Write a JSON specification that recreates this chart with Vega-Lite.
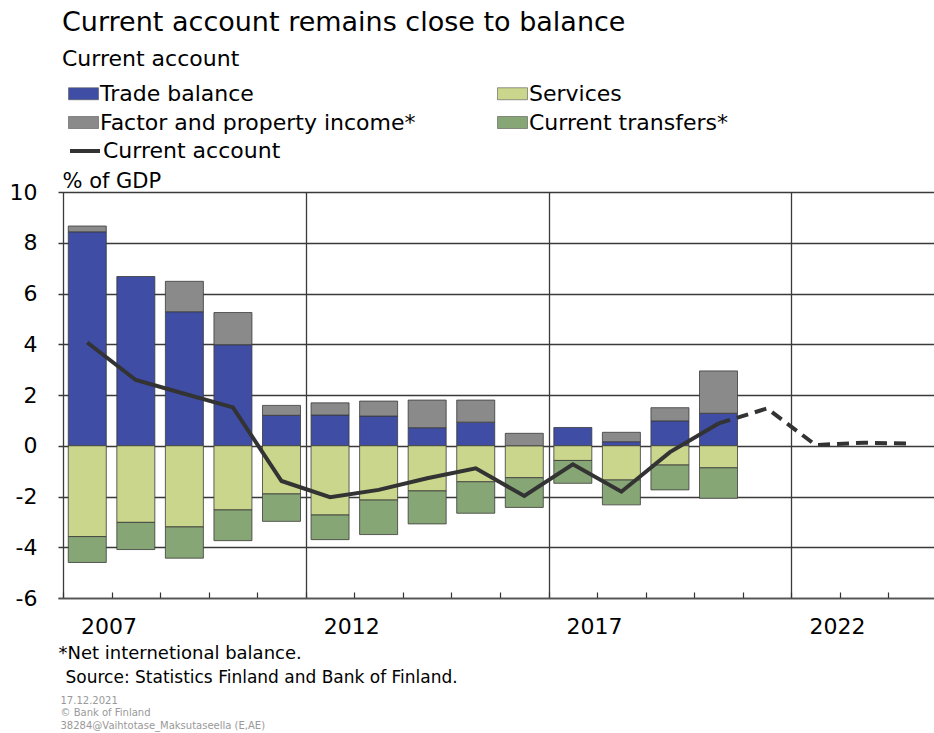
{
  "$schema": "https://vega.github.io/schema/vega-lite/v6.json",
  "width": 876,
  "height": 406,
  "autosize": {"type": "none"},
  "padding": {"left": 58, "top": 192, "right": 0, "bottom": 135},
  "background": "white",
  "config": {
    "font": "DejaVu Sans",
    "view": {"stroke": null},
    "axis": {"labelFont": "DejaVu Sans", "titleFont": "DejaVu Sans", "labelColor": "#000", "titleColor": "#000", "titleFontWeight": "normal"},
    "legend": {"labelFont": "DejaVu Sans", "labelColor": "#000"}
  },
  "title": {
    "text": "Current account remains close to balance",
    "subtitle": "Current account",
    "anchor": "start",
    "frame": "group",
    "fontSize": 27,
    "fontWeight": "normal",
    "color": "#000",
    "subtitleFontSize": 22,
    "subtitleColor": "#000",
    "subtitlePadding": 12,
    "offset": 7,
    "dx": 4
  },
  "datasets": {
    "components": [
      {"year": 2007, "component": "Trade balance", "value": 8.43},
      {"year": 2007, "component": "Services", "value": -3.58},
      {"year": 2007, "component": "Factor and property income*", "value": 0.23},
      {"year": 2007, "component": "Current transfers*", "value": -1.02},
      {"year": 2008, "component": "Trade balance", "value": 6.67},
      {"year": 2008, "component": "Services", "value": -3.02},
      {"year": 2008, "component": "Current transfers*", "value": -1.07},
      {"year": 2009, "component": "Trade balance", "value": 5.28},
      {"year": 2009, "component": "Services", "value": -3.2},
      {"year": 2009, "component": "Factor and property income*", "value": 1.2},
      {"year": 2009, "component": "Current transfers*", "value": -1.23},
      {"year": 2010, "component": "Trade balance", "value": 3.98},
      {"year": 2010, "component": "Services", "value": -2.53},
      {"year": 2010, "component": "Factor and property income*", "value": 1.27},
      {"year": 2010, "component": "Current transfers*", "value": -1.21},
      {"year": 2011, "component": "Trade balance", "value": 1.2},
      {"year": 2011, "component": "Services", "value": -1.9},
      {"year": 2011, "component": "Factor and property income*", "value": 0.39},
      {"year": 2011, "component": "Current transfers*", "value": -1.08},
      {"year": 2012, "component": "Trade balance", "value": 1.21},
      {"year": 2012, "component": "Services", "value": -2.73},
      {"year": 2012, "component": "Factor and property income*", "value": 0.48},
      {"year": 2012, "component": "Current transfers*", "value": -0.97},
      {"year": 2013, "component": "Trade balance", "value": 1.17},
      {"year": 2013, "component": "Services", "value": -2.14},
      {"year": 2013, "component": "Factor and property income*", "value": 0.59},
      {"year": 2013, "component": "Current transfers*", "value": -1.36},
      {"year": 2014, "component": "Trade balance", "value": 0.71},
      {"year": 2014, "component": "Services", "value": -1.78},
      {"year": 2014, "component": "Factor and property income*", "value": 1.09},
      {"year": 2014, "component": "Current transfers*", "value": -1.3},
      {"year": 2015, "component": "Trade balance", "value": 0.93},
      {"year": 2015, "component": "Services", "value": -1.42},
      {"year": 2015, "component": "Factor and property income*", "value": 0.87},
      {"year": 2015, "component": "Current transfers*", "value": -1.24},
      {"year": 2016, "component": "Services", "value": -1.26},
      {"year": 2016, "component": "Factor and property income*", "value": 0.49},
      {"year": 2016, "component": "Current transfers*", "value": -1.17},
      {"year": 2017, "component": "Trade balance", "value": 0.72},
      {"year": 2017, "component": "Services", "value": -0.58},
      {"year": 2017, "component": "Current transfers*", "value": -0.9},
      {"year": 2018, "component": "Trade balance", "value": 0.16},
      {"year": 2018, "component": "Services", "value": -1.35},
      {"year": 2018, "component": "Factor and property income*", "value": 0.37},
      {"year": 2018, "component": "Current transfers*", "value": -0.98},
      {"year": 2019, "component": "Trade balance", "value": 0.98},
      {"year": 2019, "component": "Services", "value": -0.76},
      {"year": 2019, "component": "Factor and property income*", "value": 0.52},
      {"year": 2019, "component": "Current transfers*", "value": -0.98},
      {"year": 2020, "component": "Trade balance", "value": 1.28},
      {"year": 2020, "component": "Services", "value": -0.87},
      {"year": 2020, "component": "Factor and property income*", "value": 1.67},
      {"year": 2020, "component": "Current transfers*", "value": -1.2}
    ],
    "account": [
      {"year": 2007, "ca": 4.07},
      {"year": 2008, "ca": 2.59},
      {"year": 2009, "ca": 2.05},
      {"year": 2010, "ca": 1.51},
      {"year": 2011, "ca": -1.39},
      {"year": 2012, "ca": -2.03},
      {"year": 2013, "ca": -1.74},
      {"year": 2014, "ca": -1.28},
      {"year": 2015, "ca": -0.89},
      {"year": 2016, "ca": -1.98},
      {"year": 2017, "ca": -0.73},
      {"year": 2018, "ca": -1.81},
      {"year": 2019, "ca": -0.25},
      {"year": 2020, "ca": 0.88},
      {"year": 2021, "ca": 1.47},
      {"year": 2022, "ca": 0.03},
      {"year": 2023, "ca": 0.12},
      {"year": 2024, "ca": 0.08}
    ]
  },
  "resolve": {"axis": {"x": "independent", "y": "independent"}},
  "layer": [
    {
      "data": {"name": "components"},
      "mark": {"type": "bar", "size": 38, "stroke": "#3a3a3a", "strokeWidth": 0.8},
      "encoding": {
        "x": {
          "field": "year", "type": "quantitative",
          "scale": {"domain": [2006.5, 2024.335], "nice": false, "zero": false},
          "axis": {
            "orient": "bottom",
            "values": [2006.5, 2007.5, 2008.5, 2009.5, 2010.5, 2011.5, 2012.5, 2013.5, 2014.5, 2015.5, 2016.5, 2017.5, 2018.5, 2019.5, 2020.5, 2021.5, 2022.5, 2023.5],
            "labelExpr": "datum.value == 2007.5 ? '2007' : datum.value == 2012.5 ? '2012' : datum.value == 2017.5 ? '2017' : datum.value == 2022.5 ? '2022' : ''",
            "labelFlush": false,
            "labelOverlap": false,
            "labelFontSize": 22,
            "labelBaseline": "alphabetic",
            "labelPadding": 41,
            "labelOffset": -3,
            "grid": false,
            "ticks": true,
            "tickSize": -6,
            "tickColor": "#333",
            "tickWidth": 1.2,
            "domain": true,
            "domainColor": "#555",
            "domainWidth": 1.3,
            "title": "*Net internetional balance.",
            "titleFontSize": 18,
            "titleX": 0,
            "titleY": 60,
            "titleAlign": "left",
            "titleAnchor": "start",
            "titleBaseline": "alphabetic"
          }
        },
        "y": {
          "field": "value", "type": "quantitative", "stack": "zero",
          "scale": {"domain": [-6, 10], "nice": false},
          "axis": {
            "orient": "left",
            "values": [-6, -4, -2, 0, 2, 4, 6, 8, 10],
            "labelExpr": "replace(datum.label, '\u2212', '-')",
            "grid": true,
            "gridColor": "#3a3a3a",
            "gridWidth": 1.3,
            "ticks": false,
            "domain": false,
            "labelFontSize": 22,
            "labelPadding": 21,
            "title": "% of GDP",
            "titleFontSize": 21,
            "titleAngle": 0,
            "titleX": 4,
            "titleY": -5,
            "titleAlign": "left",
            "titleAnchor": "start",
            "titleBaseline": "alphabetic"
          }
        },
        "fill": {
          "field": "component", "type": "nominal",
          "scale": {
            "domain": ["Trade balance", "Factor and property income*", "Services", "Current transfers*"],
            "range": ["#3F4DA5", "#8A8A8A", "#CAD68B", "#87A676"]
          },
          "legend": {
            "orient": "none",
            "legendX": 10,
            "legendY": -114,
            "columns": 2,
            "columnPadding": 80,
            "rowPadding": 2,
            "padding": 0,
            "title": null,
            "symbolType": "M-1,-0.4H1V0.4H-1Z",
            "symbolSize": 900,
            "symbolStrokeColor": "#555",
            "symbolStrokeWidth": 0.6,
            "labelFontSize": 22,
            "labelOffset": 1,
            "labelLimit": 600
          }
        },
        "order": {"field": "component", "sort": "descending"}
      }
    },
    {
      "data": {"name": "account"},
      "transform": [{"filter": "datum.year <= 2020"}],
      "mark": {"type": "line", "strokeWidth": 4},
      "encoding": {
        "x": {
          "field": "year", "type": "quantitative",
          "scale": {"domain": [2006.5, 2024.335], "nice": false, "zero": false},
          "axis": {
            "orient": "top",
            "values": [2006.5, 2011.5, 2016.5, 2021.5],
            "grid": true,
            "gridColor": "#3a3a3a",
            "gridWidth": 1.3,
            "ticks": false,
            "labels": false,
            "domain": false,
            "title": "Source: Statistics Finland and Bank of Finland.",
            "titleFontSize": 17,
            "titleX": 7,
            "titleY": 490,
            "titleAlign": "left",
            "titleAnchor": "start",
            "titleBaseline": "alphabetic"
          }
        },
        "y": {
          "field": "ca", "type": "quantitative",
          "scale": {"domain": [-6, 10], "nice": false},
          "axis": {
            "orient": "right",
            "grid": false,
            "ticks": false,
            "labels": false,
            "domain": false,
            "title": ["17.12.2021", "© Bank of Finland", "38284@Vaihtotase_Maksutaseella  (E,AE)"],
            "titleFontSize": 10,
            "titleColor": "#999",
            "titleLineHeight": 12.7,
            "titleAngle": 0,
            "titleX": -874,
            "titleY": 511,
            "titleAlign": "left",
            "titleAnchor": "start",
            "titleBaseline": "alphabetic"
          }
        },
        "stroke": {
          "datum": "Current account", "type": "nominal",
          "scale": {"range": ["#333333"]},
          "legend": {
            "orient": "none",
            "legendX": 10,
            "legendY": -58,
            "padding": 0,
            "title": null,
            "symbolType": "stroke",
            "symbolSize": 900,
            "symbolStrokeWidth": 4,
            "labelFontSize": 22,
            "labelOffset": 1,
            "labelLimit": 600
          }
        }
      }
    },
    {
      "data": {"name": "account"},
      "transform": [{"filter": "datum.year >= 2020"}],
      "mark": {"type": "line", "strokeWidth": 4, "strokeDash": [12, 7]},
      "encoding": {
        "x": {
          "field": "year", "type": "quantitative",
          "scale": {"domain": [2006.5, 2024.335], "nice": false, "zero": false},
          "axis": null
        },
        "y": {
          "field": "ca", "type": "quantitative",
          "scale": {"domain": [-6, 10], "nice": false},
          "axis": null
        },
        "stroke": {"datum": "Current account", "type": "nominal"}
      }
    }
  ]
}
